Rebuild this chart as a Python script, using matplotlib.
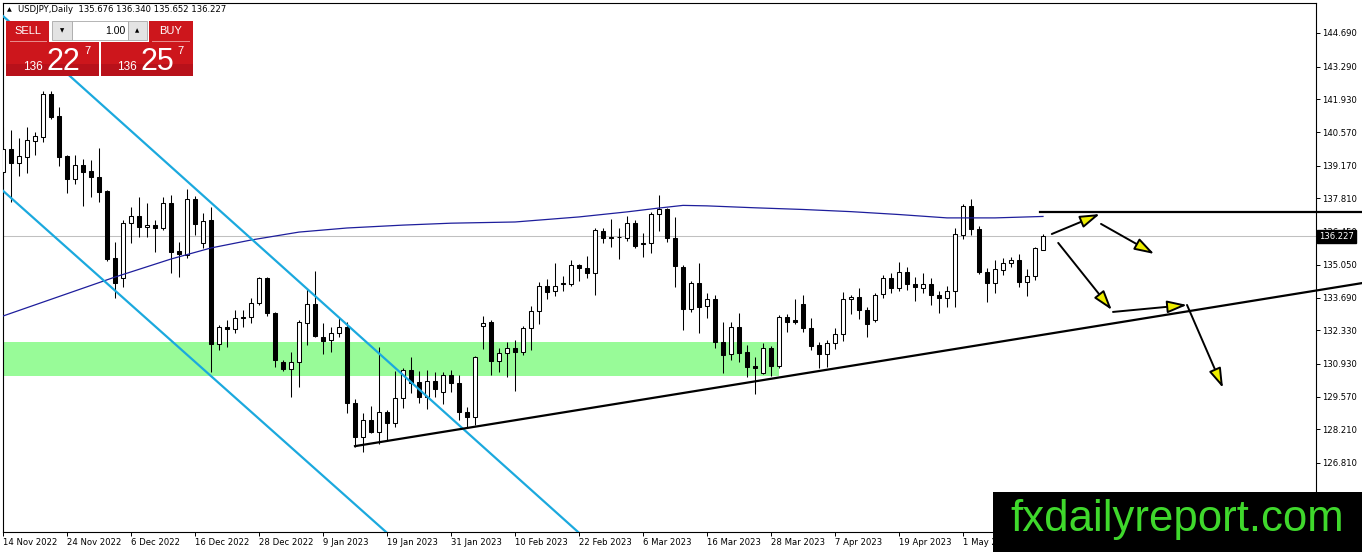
import matplotlib
matplotlib.use('Agg')
import matplotlib.pyplot as plt
import matplotlib.transforms as mtransforms
from matplotlib.patches import Rectangle, FancyArrowPatch
import numpy as np

W, H = 1362, 552

# daily candles, 14 Nov 2022 .. 15 May 2023 (one per weekday)
opens = [138.91, 139.86, 139.28, 139.53, 140.20, 140.36, 142.15, 141.24, 139.57, 138.62,
         139.20, 138.95, 138.70, 138.12, 135.33, 134.50, 136.79, 137.08, 136.62, 136.70,
         136.58, 137.62, 135.62, 135.46, 137.79, 135.96, 136.91, 131.76, 132.46, 132.38,
         132.88, 132.88, 133.46, 134.50, 133.05, 131.01, 130.72, 131.01, 132.63, 133.42,
         132.05, 131.92, 132.21, 132.46, 129.30, 127.89, 128.60, 128.10, 128.93, 128.47,
         129.51, 130.68, 130.18, 129.55, 130.22, 129.76, 130.47, 130.13, 128.93, 128.72,
         132.51, 132.67, 131.05, 131.38, 131.59, 131.42, 132.42, 133.13, 134.17, 133.96,
         134.29, 134.25, 135.04, 134.92, 134.71, 136.46, 136.21, 136.21, 136.16, 136.79,
         135.96, 135.96, 137.16, 137.37, 136.16, 134.96, 133.21, 134.29, 133.34, 133.63,
         131.84, 131.34, 132.46, 131.42, 130.84, 130.55, 131.59, 130.84, 132.88, 132.75,
         133.42, 132.42, 131.72, 131.34, 131.80, 132.17, 133.63, 133.71, 133.17, 132.75,
         133.84, 134.50, 134.08, 134.75, 134.25, 134.08, 134.25, 133.79, 133.67, 133.96,
         136.29, 137.49, 136.54, 134.75, 134.29, 134.83, 135.12, 135.25, 134.33, 134.58,
         135.676]
highs = [140.78, 140.65, 140.32, 140.78, 140.57, 142.28, 142.28, 141.61, 139.61, 139.61,
         139.45, 139.41, 139.91, 138.16, 136.00, 136.91, 137.45, 137.87, 137.62, 136.91,
         137.87, 137.95, 136.00, 138.20, 137.91, 137.20, 137.45, 132.55, 132.75, 133.17,
         133.17, 133.67, 134.54, 134.54, 133.09, 131.09, 131.42, 132.75, 134.04, 134.79,
         132.63, 132.46, 132.84, 132.67, 129.47, 128.89, 129.18, 131.63, 129.01, 130.63,
         130.76, 131.22, 130.63, 130.68, 130.59, 130.59, 130.68, 130.47, 129.14, 131.26,
         132.92, 132.75, 131.59, 131.84, 131.92, 132.50, 133.34, 134.33, 134.46, 135.12,
         134.58, 135.25, 135.08, 135.41, 136.58, 136.58, 136.95, 136.58, 137.08, 136.91,
         136.37, 137.25, 137.95, 137.41, 137.04, 135.04, 134.38, 135.12, 133.88, 133.79,
         132.67, 132.67, 133.05, 131.72, 131.22, 131.80, 131.67, 132.96, 133.00, 133.63,
         133.79, 132.84, 131.84, 131.92, 132.42, 133.92, 133.79, 134.08, 133.29, 133.88,
         134.62, 134.71, 135.17, 134.96, 134.54, 134.71, 134.50, 133.96, 134.17, 136.58,
         137.58, 137.78, 136.66, 134.92, 135.25, 135.33, 135.37, 135.50, 134.87, 135.79,
         136.340]
lows = [138.78, 137.66, 138.74, 138.87, 139.61, 140.16, 141.11, 139.16, 138.03, 138.41,
        137.49, 137.87, 137.66, 135.21, 133.67, 134.13, 135.96, 136.21, 136.21, 135.58,
        136.50, 134.71, 134.54, 135.33, 136.29, 135.75, 130.59, 131.51, 131.63, 132.21,
        132.46, 132.63, 133.38, 132.92, 130.80, 130.63, 129.55, 129.97, 131.72, 132.05,
        131.34, 131.42, 132.05, 128.89, 127.47, 127.27, 128.06, 127.60, 127.77, 128.31,
        129.10, 129.72, 129.30, 129.05, 129.55, 129.26, 129.76, 128.60, 128.31, 128.39,
        131.55, 130.47, 130.59, 130.38, 129.80, 131.30, 131.51, 132.59, 133.63, 133.75,
        133.96, 134.17, 134.38, 134.50, 133.79, 135.96, 135.79, 135.29, 136.04, 135.75,
        135.37, 135.54, 136.46, 136.00, 134.13, 132.34, 133.09, 132.21, 132.84, 131.59,
        130.55, 131.09, 131.01, 130.38, 129.67, 130.51, 130.43, 130.76, 132.25, 132.59,
        132.25, 131.51, 130.76, 130.80, 131.55, 131.88, 133.00, 132.80, 132.05, 132.67,
        133.67, 133.88, 133.96, 134.00, 133.54, 133.88, 133.38, 133.05, 133.29, 133.29,
        136.12, 136.29, 134.67, 133.50, 133.88, 134.62, 134.96, 134.13, 133.75, 134.42,
        135.652]
closes = [139.86, 139.28, 139.57, 140.24, 140.41, 142.15, 141.20, 139.53, 138.62, 139.20,
          138.91, 138.70, 138.08, 135.29, 134.29, 136.79, 137.08, 136.62, 136.70, 136.58,
          137.62, 135.58, 135.50, 137.79, 136.75, 136.87, 131.76, 132.46, 132.38, 132.84,
          132.84, 133.46, 134.50, 133.05, 131.09, 130.72, 131.01, 132.67, 133.42, 132.09,
          131.88, 132.21, 132.46, 129.30, 127.89, 128.60, 128.10, 128.93, 128.47, 129.51,
          130.68, 130.13, 129.55, 130.22, 129.89, 130.47, 130.13, 128.93, 128.72, 131.22,
          132.63, 131.05, 131.38, 131.59, 131.42, 132.42, 133.13, 134.17, 133.92, 134.17,
          134.25, 135.04, 134.92, 134.71, 136.50, 136.16, 136.16, 136.19, 136.79, 135.83,
          135.91, 137.16, 137.37, 136.16, 135.00, 133.21, 134.29, 133.29, 133.63, 131.84,
          131.30, 132.46, 131.38, 130.80, 130.76, 131.59, 130.84, 132.88, 132.67, 132.67,
          132.42, 131.67, 131.34, 131.80, 132.17, 133.63, 133.71, 133.17, 132.59, 133.79,
          134.50, 134.08, 134.75, 134.25, 134.13, 134.25, 133.79, 133.67, 133.96, 136.33,
          137.49, 136.54, 134.75, 134.29, 134.87, 135.12, 135.25, 134.33, 134.58, 135.75,
          136.227]

# moving average, read at some bars
ma_idx = [0, 14, 21, 26, 31, 37, 43, 50, 56, 64, 72, 78, 82, 85, 88, 94, 100, 106, 112, 118, 124, 130]
ma_val = [132.92, 134.54, 135.29, 135.75, 136.08, 136.41, 136.58, 136.70, 136.78, 136.83, 137.04,
          137.25, 137.41, 137.52, 137.50, 137.42, 137.35, 137.26, 137.14, 137.00, 137.00, 137.06]

date_labels = ['14 Nov 2022', '24 Nov 2022', '6 Dec 2022', '16 Dec 2022', '28 Dec 2022',
               '9 Jan 2023', '19 Jan 2023', '31 Jan 2023', '10 Feb 2023', '22 Feb 2023',
               '6 Mar 2023', '16 Mar 2023', '28 Mar 2023', '7 Apr 2023', '19 Apr 2023', '1 May 2023']
price_ticks = [144.690, 143.290, 141.930, 140.570, 139.170, 137.810, 136.450,
               135.050, 133.690, 132.330, 130.930, 129.570, 128.210, 126.810]

last_price = 136.227
header = 'USDJPY,Daily  135.676 136.340 135.652 136.227'

# drawings (bar index, price)
zone_lo, zone_hi, zone_end = 130.43, 131.84, 97
cyan_upper = [(-2, 145.99), (75, 123.01)]
cyan_lower = [(-2, 138.72), (52, 122.72)]
support = [(44.0, 127.51), (169.9, 134.29)]
resist = [(129.6, 137.25), (169.9, 137.25)]
arrows = [((131.1, 136.33), (137.1, 137.16)),
          ((137.25, 136.75), (143.9, 135.50)),
          ((131.9, 135.96), (138.6, 133.17)),
          ((138.75, 133.09), (148.0, 133.38)),
          ((148.0, 133.38), (152.5, 129.93))]

fig = plt.figure(figsize=(W / 100, H / 100), dpi=100)
fig.patch.set_facecolor('white')
ax = fig.add_axes([3 / W, (H - 532) / H, 1313 / W, 529 / H])
ax.set_xlim(0, 164.125)
ax.set_ylim(123.94, 145.935)

o, h, l, c = map(np.array, (opens, highs, lows, closes))
idx = np.arange(len(o))
up = c >= o

# support zone
ax.add_patch(Rectangle((-5, zone_lo), zone_end + 5, zone_hi - zone_lo,
                       fc='#98FB98', ec='none', zorder=1))
ax.axhline(last_price, color='#C0C0C0', lw=0.75, zorder=1.5)

ax.vlines(idx, l, h, color='black', lw=0.75, zorder=3)
ax.bar(idx[up], (c - o)[up], bottom=o[up], width=0.5, color='white',
       edgecolor='black', lw=0.75, zorder=3.5)
ax.bar(idx[~up], (o - c)[~up], bottom=c[~up], width=0.5, color='black',
       edgecolor='black', lw=0.75, zorder=3.5)

ax.plot(ma_idx, ma_val, color='#1E1E9C', lw=0.9, zorder=4)

for ln in (cyan_upper, cyan_lower):
    xs, ys = zip(*ln)
    ax.plot(xs, ys, color='#1BA9DE', lw=1.6, zorder=5)

for ln in (support, resist):
    xs, ys = zip(*ln)
    ax.plot(xs, ys, color='black', lw=1.6, zorder=5, clip_on=False)

for (p0, p1) in arrows:
    ax.add_patch(FancyArrowPatch(p0, p1, arrowstyle='-|>,head_length=12,head_width=3.8',
                                 mutation_scale=1, fc='#EDED00', ec='black', lw=1.4,
                                 shrinkA=0, shrinkB=0, zorder=6, clip_on=False))

# axes styling
for s in ax.spines.values():
    s.set_linewidth(0.8)
    s.set_color('black')
ax.yaxis.tick_right()
ax.set_yticks(price_ticks)
ax.set_yticklabels([f'{p:.3f}' for p in price_ticks])
ax.set_xticks(np.arange(len(date_labels)) * 8)
ax.set_xticklabels(date_labels, ha='left')
ax.tick_params(axis='y', length=3, width=0.7, pad=1.5, labelsize=6.1, colors='black')
ax.tick_params(axis='x', length=3, width=0.7, pad=1.5, labelsize=6.1, colors='black')

trans = mtransforms.blended_transform_factory(ax.transAxes, ax.transData)
ax.text(1 + 3 / 1313, last_price, f'{last_price:.3f}', transform=trans, ha='left', va='center',
        color='white', fontsize=6.1, zorder=10, clip_on=False,
        bbox=dict(boxstyle='square,pad=0.25', fc='black', ec='black'))


# helpers in pixel units for the header and the trade panel
def box(x0, y0, x1, y1, **kw):
    fig.add_artist(Rectangle((x0 / W, 1 - y1 / H), (x1 - x0) / W, (y1 - y0) / H,
                             transform=fig.transFigure, zorder=kw.pop('zorder', 20), **kw))


def txt(x, y, s, **kw):
    fig.text(x / W, 1 - y / H, s, zorder=kw.pop('zorder', 22), **kw)


txt(9, 10, '▲', fontsize=4.5, ha='center', va='center')
txt(18, 10, header, fontsize=6.1, ha='left', va='center')

red = '#CD161C'
box(6, 21, 49, 42, fc=red, ec='none')
box(149, 21, 193, 42, fc=red, ec='none')
box(52, 21, 72, 40, fc='#E3E3E3', ec='#A8A8A8', lw=0.6)
box(72, 21, 128, 40, fc='white', ec='#A8A8A8', lw=0.6)
box(128, 21, 147, 40, fc='#E3E3E3', ec='#A8A8A8', lw=0.6)
box(6, 42, 99, 76, fc=red, ec='none')
box(101, 42, 193, 76, fc=red, ec='none')
box(6, 64, 99, 76, fc='#B8111A', ec='none', zorder=20.5)
box(101, 64, 193, 76, fc='#B8111A', ec='none', zorder=20.5)
box(10, 41, 47, 42, fc='#E88A8A', ec='none', zorder=21)
box(152, 41, 190, 42, fc='#E88A8A', ec='none', zorder=21)

txt(27.5, 31.5, 'SELL', color='white', fontsize=8, family='Liberation Sans', ha='center', va='center')
txt(171, 31.5, 'BUY', color='white', fontsize=8, family='Liberation Sans', ha='center', va='center')
txt(62, 30.5, '▼', fontsize=4, ha='center', va='center')
txt(137.5, 30.5, '▲', fontsize=4, ha='center', va='center')
txt(125, 30.5, '1.00', fontsize=7.5, family='Liberation Sans', ha='right', va='center')

for x_small, x_big, x_sup, big in ((23, 46, 84, '22'), (117, 141, 177, '25')):
    txt(x_small, 70, '136', color='white', fontsize=8.5, family='Liberation Sans', va='baseline')
    txt(x_big, 70, big, color='white', fontsize=22, family='Liberation Sans', va='baseline')
    txt(x_sup, 46, '7', color='white', fontsize=8, family='Liberation Sans', va='top')

# watermark
box(993, 492, 1362, 552, fc='black', ec='none', zorder=30)
txt(1177, 520, 'fxdailyreport.com', color='#3FD82C', fontsize=31.5,
    family='Liberation Sans', ha='center', va='center', zorder=31)

fig.savefig('out.png', dpi=100)
